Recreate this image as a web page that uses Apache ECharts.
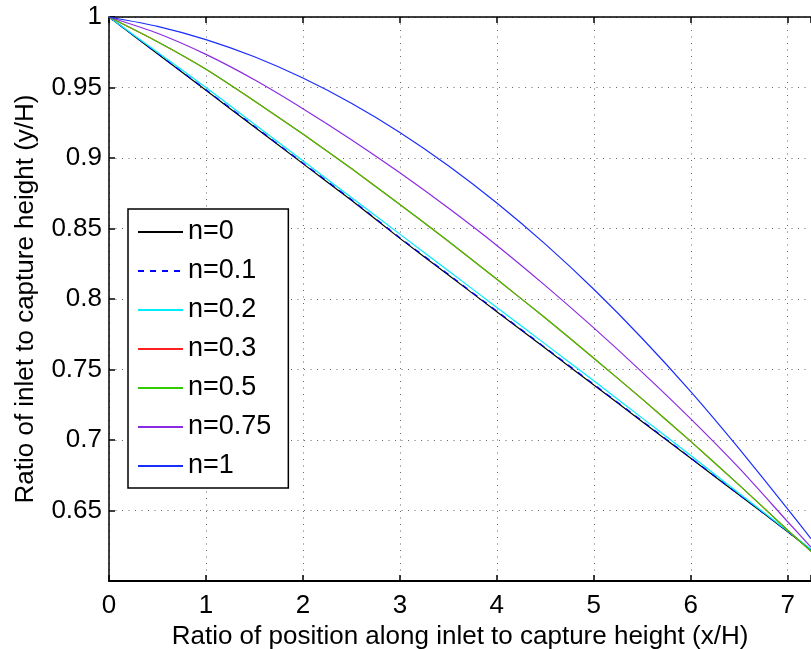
<!DOCTYPE html>
<html>
<head>
<meta charset="utf-8">
<script src="https://cdn.jsdelivr.net/npm/echarts@6/dist/echarts.min.js"></script>
<style>
html,body{margin:0;padding:0;background:#fff;}
#chart{width:811px;height:649px;}
</style>
</head>
<body>
<div id="chart"></div>
<script>
const xValues = [0, 0.5, 1, 1.5, 2, 2.5, 3, 3.5, 4, 4.5, 5, 5.5, 6, 6.5, 7, 7.24];
const yN0    = [1, 0.974, 0.948, 0.922, 0.896, 0.870, 0.843, 0.817, 0.791, 0.765, 0.739, 0.713, 0.687, 0.661, 0.635, 0.622];
const yN01   = [1, 0.9742, 0.9484, 0.9225, 0.8965, 0.8705, 0.8435, 0.8175, 0.7915, 0.7655, 0.7395, 0.7135, 0.6873, 0.6612, 0.635, 0.622];
const yN02   = [1, 0.975, 0.950, 0.924, 0.898, 0.872, 0.846, 0.820, 0.794, 0.768, 0.742, 0.7155, 0.689, 0.662, 0.6355, 0.6225];
const yN03   = [1, 0.9825, 0.963, 0.9405, 0.917, 0.8925, 0.867, 0.841, 0.814, 0.7865, 0.758, 0.729, 0.699, 0.668, 0.636, 0.621];
const yN05   = [1, 0.9825, 0.963, 0.9405, 0.917, 0.8925, 0.867, 0.841, 0.814, 0.7865, 0.758, 0.729, 0.699, 0.668, 0.636, 0.621];
const yN075  = [1, 0.9885, 0.9735, 0.9555, 0.935, 0.913, 0.8895, 0.8645, 0.838, 0.8095, 0.7795, 0.748, 0.715, 0.680, 0.642, 0.624];
const yN1    = [1, 0.9934, 0.984, 0.9718, 0.9567, 0.9388, 0.9181, 0.8945, 0.8681, 0.8389, 0.8069, 0.772, 0.7343, 0.6937, 0.651, 0.630];
const seriesNames = ['n=0', 'n=0.1', 'n=0.2', 'n=0.3', 'n=0.5', 'n=0.75', 'n=1'];
const seriesValues = [yN0, yN01, yN02, yN03, yN05, yN075, yN1];
const seriesColors = ['#000000', '#0000ff', '#00eeff', '#ff2020', '#33cc00', '#8a2be2', '#1a2dff'];
const xTicks = [0, 1, 2, 3, 4, 5, 6, 7];
const yTicks = [0.65, 0.7, 0.75, 0.8, 0.85, 0.9, 0.95, 1];

const FONT = '"Liberation Sans", Arial, sans-serif';
const chart = echarts.init(document.getElementById('chart'), null, {renderer: 'canvas'});

const series = seriesNames.map((name, i) => ({
  name: name,
  type: 'line',
  xAxisIndex: 0,
  yAxisIndex: 0,
  symbol: 'none',
  showSymbol: false,
  smooth: 0.2,
  lineStyle: {color: seriesColors[i], width: 1.2, type: i === 1 ? [6, 6] : 'solid'},
  itemStyle: {color: seriesColors[i]},
  data: xValues.map((x, k) => [x, seriesValues[i][k]])
}));

chart.setOption({
  animation: false,
  backgroundColor: '#fff',
  grid: {left: 109, right: 0, top: 17, bottom: 68, containLabel: false, outerBoundsMode: 'none'},
  xAxis: [{
    type: 'value', min: 0, max: 7.24, interval: 1, position: 'bottom',
    name: 'Ratio of position along inlet to capture height (x/H)',
    nameLocation: 'middle', nameGap: 43,
    nameTextStyle: {fontFamily: FONT, fontSize: 26, color: '#000'},
    axisLine: {show: true, onZero: false, lineStyle: {color: '#000', width: 2}},
    axisTick: {show: true, inside: true, length: 6, lineStyle: {color: '#000', width: 1.5}},
    axisLabel: {show: true, margin: 12, fontFamily: FONT, fontSize: 26, color: '#000',
      formatter: v => xTicks.indexOf(Math.round(v * 100) / 100) >= 0 ? String(v) : ''},
    splitLine: {show: true, lineStyle: {color: '#666', width: 1, type: [1, 5.5]}}
  }, {
    type: 'value', min: 0, max: 7.24, interval: 1, position: 'top',
    axisLine: {show: true, onZero: false, lineStyle: {color: '#000', width: 1.5}},
    axisTick: {show: true, inside: true, length: 6, lineStyle: {color: '#000', width: 1.5}},
    axisLabel: {show: false},
    splitLine: {show: false}
  }],
  yAxis: [{
    type: 'value', min: 0.6, max: 1, interval: 0.05,
    name: 'Ratio of inlet to capture height (y/H)',
    nameLocation: 'middle', nameGap: 70,
    nameTextStyle: {fontFamily: FONT, fontSize: 26, color: '#000'},
    axisLine: {show: true, onZero: false, lineStyle: {color: '#000', width: 1.5}},
    axisTick: {show: true, inside: true, length: 6, lineStyle: {color: '#000', width: 1.5}},
    axisLabel: {show: true, margin: 7, fontFamily: FONT, fontSize: 26, color: '#000',
      formatter: v => {
        const r = Math.round(v * 100) / 100;
        return yTicks.indexOf(r) >= 0 ? String(r) : '';
      }},
    splitLine: {show: true, lineStyle: {color: '#666', width: 1, type: [1, 5.5]}}
  }],
  legend: {
    orient: 'vertical', left: 128, top: 209,
    itemWidth: 45, itemHeight: 14, itemGap: 9,
    padding: [8, 17, 7, 9],
    borderColor: '#000', borderWidth: 1.5, backgroundColor: '#fff',
    itemStyle: {opacity: 0},
    textStyle: {fontFamily: FONT, fontSize: 27, color: '#000', lineHeight: 30},
    data: seriesNames
  },
  series: series
});
</script>
</body>
</html>
